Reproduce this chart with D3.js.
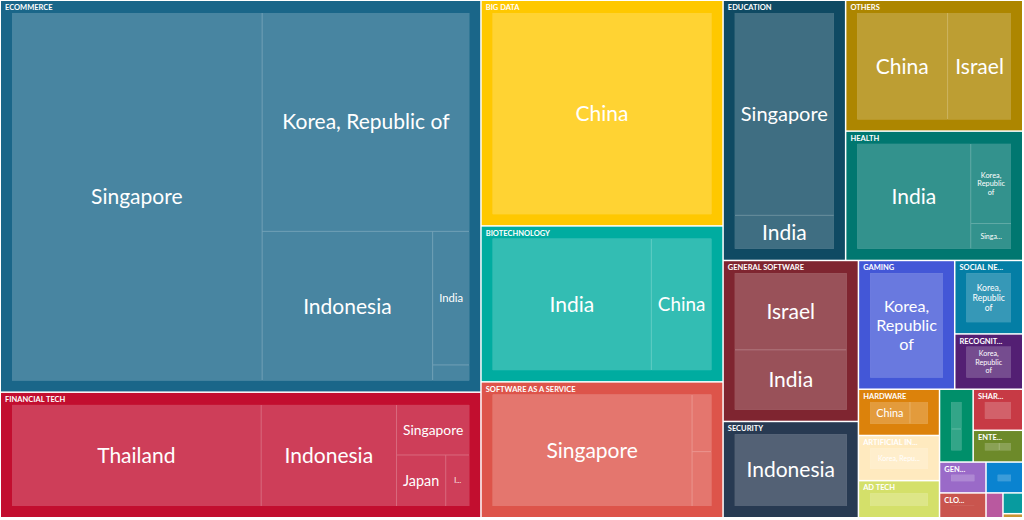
<!DOCTYPE html>
<html>
<head>
<meta charset="utf-8">
<script src="https://cdn.jsdelivr.net/npm/d3@7"></script>
<style>
  html, body { margin: 0; padding: 0; background: #fff; }
  svg { display: block; font-family: Lato, "Noto Sans", sans-serif; }
</style>
</head>
<body>
<svg id="chart" width="1024" height="520"></svg>
<script>
// industries and the colour of each block
var industries = [
  "ECOMMERCE", "FINANCIAL TECH", "BIG DATA", "BIOTECHNOLOGY", "SOFTWARE AS A SERVICE",
  "EDUCATION", "OTHERS", "HEALTH", "GENERAL SOFTWARE", "SECURITY", "GAMING",
  "SOCIAL NETWORKING", "RECOGNITION TECHNOLOGY", "HARDWARE", "ARTIFICIAL INTELLIGENCE",
  "AD TECH", "TRANSPORTATION", "SHARING ECONOMY", "ENTERTAINMENT", "GENOMICS",
  "CLOUD COMPUTING", "TRAVEL", "MEDIA", "MARKETING", "REAL ESTATE"
];
var industryColors = [
  "#1a6689", "#c20e2f", "#ffc800", "#00aca0", "#dd544a",
  "#0f4a63", "#ad8600", "#007770", "#7f2530", "#283a52", "#4357d7",
  "#047ea5", "#531f73", "#dc820b", "#ffeabf",
  "#d4e06a", "#008f6a", "#c73a45", "#6d8a2a", "#9a6ac8",
  "#c9554e", "#0a83d0", "#b9599f", "#089b9f", "#c99434"
];
// countries inside each industry, and their amounts
var countries = [
  ["Singapore", "Korea, Republic of", "Indonesia", "India", "Malaysia"],
  ["Thailand", "Indonesia", "Singapore", "Japan", "India"],
  ["China"],
  ["India", "China"],
  ["Singapore", "India", "China"],
  ["Singapore", "India"],
  ["China", "Israel"],
  ["India", "Korea, Republic of", "Singapore"],
  ["Israel", "India"],
  ["Indonesia"],
  ["Korea, Republic of"],
  ["Korea, Republic of"],
  ["Korea, Republic of"],
  ["China", "Singapore"],
  ["Korea, Republic of"],
  ["India"],
  ["Indonesia", "Singapore"],
  ["Korea, Republic of"],
  ["Korea, Republic of", "China"],
  ["China"],
  ["India"],
  ["Singapore"],
  ["Korea, Republic of"],
  ["India"],
  ["China"]
];
var amounts = [
  [1027.2, 505.3, 283.6, 55.1, 6.6],
  [327.8, 177.7, 47.6, 32.6, 15.9],
  [544.5],
  [272.7, 103.6],
  [298.4, 15.1, 14.4],
  [272.4, 45.5],
  [135.5, 95.5],
  [168.1, 45.6, 14.6],
  [121.8, 95.4],
  [129.9],
  [123.6],
  [49.8],
  [37.5],
  [25.7, 11.7],
  [36.5],
  [30.0],
  [13.6, 10.8],
  [20.3],
  [8.6, 7.1],
  [14.3],
  [11.5],
  [11.3],
  [4.2],
  [4.1],
  [0.8]
];

var width = 1024, height = 520;

var data = {
  name: "all",
  children: industries.map(function(name, i) {
    return {
      name: name,
      color: industryColors[i],
      children: countries[i].map(function(c, j) { return { name: c, value: amounts[i][j] }; })
    };
  })
};

var root = d3.hierarchy(data)
  .sum(function(d) { return d.value; })
  .sort(function(a, b) { return b.value - a.value; });

d3.treemap()
  .tile(d3.treemapBinary)
  .size([width, height])
  .paddingInner(function(d) { return d.depth === 0 ? 1.5 : 1; })
  .paddingTop(function(d) { return d.depth === 0 ? 1 : 12; })
  .paddingLeft(function(d) { return d.depth === 0 ? 1 : 11; })
  .paddingRight(function(d) { return d.depth === 0 ? 2 : 11; })
  .paddingBottom(function(d) { return d.depth === 0 ? 3 : 11; })
  (root);

var svg = d3.select("#chart");

var groups = svg.selectAll("g.industry")
  .data(root.children)
  .join("g")
  .attr("class", "industry");

// industry block
groups.append("rect")
  .attr("x", function(d) { return d.x0; })
  .attr("y", function(d) { return d.y0; })
  .attr("width", function(d) { return d.x1 - d.x0; })
  .attr("height", function(d) { return d.y1 - d.y0; })
  .attr("fill", function(d) { return d.data.color; });

// lighter backdrop so the 1px gaps between countries show as thin light lines
groups.each(function(d) {
  var kids = d.children;
  var x0 = d3.min(kids, function(k) { return k.x0; }), x1 = d3.max(kids, function(k) { return k.x1; });
  var y0 = d3.min(kids, function(k) { return k.y0; }), y1 = d3.max(kids, function(k) { return k.y1; });
  if (x1 - x0 < 1 || y1 - y0 < 1) return;
  d3.select(this).append("rect")
    .attr("x", x0).attr("y", y0)
    .attr("width", x1 - x0).attr("height", y1 - y0)
    .attr("fill", d3.interpolateRgb(d.data.color, "#fff")(0.38));
});

// country cells
groups.selectAll("rect.country")
  .data(function(d) { return d.children; })
  .join("rect")
  .attr("class", "country")
  .attr("x", function(d) { return d.x0; })
  .attr("y", function(d) { return d.y0; })
  .attr("width", function(d) { return Math.max(0, d.x1 - d.x0); })
  .attr("height", function(d) { return Math.max(0, d.y1 - d.y0); })
  .attr("fill", function(d) { return d3.interpolateRgb(d.parent.data.color, "#fff")(0.2); });

// cut text down with "..." until it fits
function fitText(el, text, maxW) {
  el.text(text);
  if (el.node().getComputedTextLength() <= maxW) return text.length;
  for (var n = text.length - 1; n > 0; n--) {
    el.text(text.slice(0, n).trim() + "...");
    if (el.node().getComputedTextLength() <= maxW) return n;
  }
  el.text("");
  return 0;
}

// industry headers
groups.append("text")
  .attr("x", function(d) { return d.x0 + 4; })
  .attr("y", function(d) { return d.y0 + 9; })
  .attr("fill", "#fff")
  .attr("font-size", 7.5)
  .attr("font-weight", 700)
  .each(function(d) {
    var el = d3.select(this);
    var n = fitText(el, d.data.name, d.x1 - d.x0 - 22);
    if (n < 3) el.text("");
  });

// country labels
var maxSize = 21, minSize = 7, lineH = 1.15;

groups.selectAll("text.country")
  .data(function(d) { return d.children; })
  .join("text")
  .attr("class", "country")
  .attr("fill", "#fff")
  .attr("text-anchor", "middle")
  .each(function(d) {
    var el = d3.select(this);
    var w = d.x1 - d.x0, h = d.y1 - d.y0;
    if (w < 22 || h < 17) return;
    var cx = (d.x0 + d.x1) / 2, cy = (d.y0 + d.y1) / 2;

    el.attr("font-size", 20).text(d.data.name);
    var full = el.node().getComputedTextLength() / 20;
    var words = d.data.name.split(" ");
    var widest = d3.max(words, function(wd) {
      el.text(wd);
      return el.node().getComputedTextLength() / 20;
    });

    var oneLine = Math.min(maxSize, (w - 12) / full, (h - 6) / lineH);
    var lines = [d.data.name], size = oneLine;
    if (oneLine < 10 && words.length > 1) {
      var wrapped = Math.min(maxSize, (w - 12) / widest, (h - 6) / (words.length * lineH));
      if (wrapped > oneLine) { lines = words; size = wrapped; }
    }

    el.text(null).attr("font-size", size);
    if (size < minSize) {
      el.attr("font-size", minSize).attr("x", cx).attr("y", cy + minSize * 0.35);
      fitText(el, d.data.name, w - 15);
      return;
    }
    var first = cy - (lines.length - 1) * size * lineH / 2 + size * 0.35;
    lines.forEach(function(line, i) {
      el.append("tspan")
        .attr("x", cx)
        .attr("y", first + i * size * lineH)
        .text(line);
    });
  });
</script>
</body>
</html>
